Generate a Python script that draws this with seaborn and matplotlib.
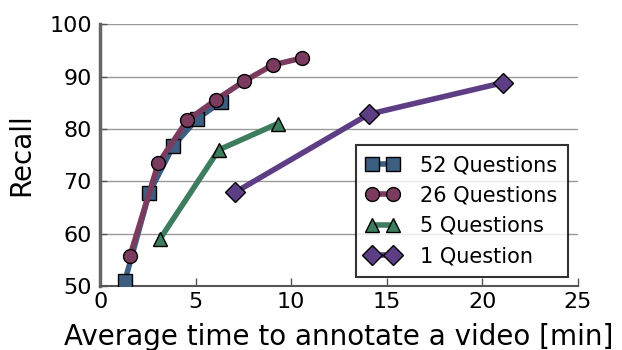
import matplotlib
matplotlib.use("Agg")
import matplotlib.pyplot as plt
import seaborn as sns
import pandas as pd

series_names = ["52 Questions", "26 Questions", "5 Questions", "1 Question"]
time_52 = [1.30, 2.57, 3.82, 5.07, 6.34]
recall_52 = [51.0, 67.8, 76.7, 81.9, 85.2]
time_26 = [1.56, 3.04, 4.55, 6.04, 7.53, 9.03, 10.54]
recall_26 = [55.7, 73.4, 81.6, 85.5, 89.1, 92.2, 93.5]
time_5 = [3.12, 6.21, 9.29]
recall_5 = [58.9, 76.0, 81.0]
time_1 = [7.07, 14.06, 21.06]
recall_1 = [67.9, 82.8, 88.8]
x_ticks = [0, 5, 10, 15, 20, 25]
y_ticks = [50, 60, 70, 80, 90, 100]

colors = ["#3b5e81", "#7a3b5e", "#3d7c5d", "#5d3e85"]
markers = ["s", "o", "^", "D"]

sns.set_style("white")
plt.rcParams['font.family'] = ['DejaVu Sans']
plt.rcParams['text.color'] = 'black'
plt.rcParams['axes.labelcolor'] = 'black'
plt.rcParams['xtick.color'] = 'black'
plt.rcParams['ytick.color'] = 'black'

fig = plt.figure(figsize=(6.22, 3.5), dpi=100)
ax = fig.add_axes([0.161, 0.183, 0.768, 0.748])

data = [(time_52, recall_52), (time_26, recall_26), (time_5, recall_5), (time_1, recall_1)]
for (xs, ys), name, c, m in zip(data, series_names, colors, markers):
    df = pd.DataFrame({"time": xs, "recall": ys})
    sns.lineplot(data=df, x="time", y="recall", ax=ax, color=c, marker=m,
                 markersize=10, markeredgecolor="black", markeredgewidth=1,
                 linewidth=4, label=name, sort=False, zorder=3)

ax.set_xlim(0, 25)
ax.set_ylim(50, 100)
ax.set_xticks(x_ticks)
ax.set_yticks(y_ticks)
ax.tick_params(axis="both", labelsize=16, direction="in", length=6, width=1,
               color="#555555", labelcolor="black", bottom=True, left=True)
ax.tick_params(axis="x", pad=4)
ax.tick_params(axis="y", pad=6, length=5)
ax.yaxis.grid(True, color="#999999", linewidth=1)
ax.xaxis.grid(False)
ax.set_axisbelow(True)

for s in ["top", "right"]:
    ax.spines[s].set_visible(False)
ax.spines["left"].set_linewidth(2.5)
ax.spines["left"].set_color("#666666")
ax.spines["bottom"].set_linewidth(1.5)
ax.spines["bottom"].set_color("#555555")

ax.set_xlabel("Average time to annotate a video [min]", fontsize=20, labelpad=8,
              color="black")
ax.set_ylabel("Recall", fontsize=20, labelpad=10, color="black")

handles, labels = ax.get_legend_handles_labels()
leg = ax.legend(handles, labels, loc="lower right", numpoints=2, fontsize=15,
                frameon=True, fancybox=False, edgecolor="black",
                handlelength=1.6, handletextpad=1.0, borderpad=0.5,
                labelspacing=0.5, bbox_to_anchor=(0.979, 0.035),
                borderaxespad=0)
leg.get_frame().set_linewidth(1.5)
leg.set_zorder(5)
for t in leg.get_texts():
    t.set_color("black")

fig.savefig("out.png", dpi=100)
